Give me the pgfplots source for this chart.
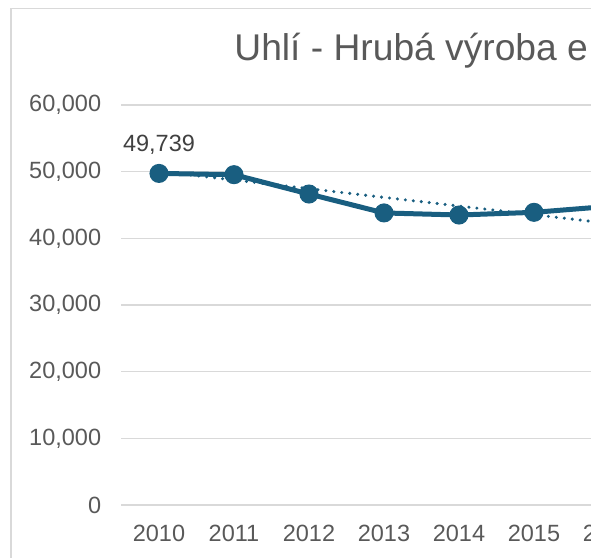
\documentclass[border=0pt]{standalone}
\usepackage{pgfplots}
\pgfplotsset{compat=1.18}
\usepackage{fontspec}
\setmainfont{Liberation Sans}

\definecolor{linecol}{HTML}{195E80}
\definecolor{gridcol}{HTML}{D9D9D9}
\definecolor{labcol}{HTML}{595959}
\definecolor{datcol}{HTML}{404040}

% 1 px of the reference = 0.5pt
\def\px{0.5pt}

\begin{document}
\begin{tikzpicture}
\useasboundingbox (0,0) rectangle (295.5pt,-279pt);
\clip (0,0) rectangle (295.5pt,-279pt);

% chart border (cut at right and bottom)
\draw[gridcol, line width=0.75pt] (11*\px,-700*\px) -- (11*\px,-8.5*\px) -- (800*\px,-8.5*\px);

% title
\node[anchor=base west, inner sep=0pt, text=labcol, font=\fontsize{18.6}{22}\selectfont]
  at (234*\px,-60.5*\px) {Uhlí - Hrubá výroba e};

\begin{axis}[
    at={(121.5*\px,-505*\px)}, anchor=south west,
    scale only axis,
    width=412.5pt, height=200pt,
    xmin=2009.5, xmax=2020.5,
    ymin=0, ymax=60000,
    xtick={2010,2011,...,2020},
    ytick={0,10000,...,60000},
    scaled y ticks=false,
    axis line style={draw=none},
    major tick length=0pt,
    ymajorgrids,
    grid style={gridcol, line width=0.8pt},
    xticklabel={\pgfmathprintnumber[1000 sep={}]{\tick}},
    yticklabel style={/pgf/number format/fixed, /pgf/number format/1000 sep={,}},
    /pgf/number format/assume math mode=true,
    ticklabel style={text=labcol, font=\fontsize{11.75}{14}\selectfont, inner sep=0pt},
    yticklabel style={anchor=east, xshift=-10pt},
    xticklabel style={anchor=north, yshift=-10pt},
    clip=false,
]
\addplot[linecol, line width=2.5pt, mark=*, mark size=3.5pt, mark options={solid, fill=linecol}]
  coordinates {(2010,49739)(2011,49550)(2012,46650)(2013,43810)(2014,43500)(2015,43900)(2016,44800)};
% linear trend
\addplot[linecol, line width=1.7pt, line cap=round, dash pattern=on 0pt off 4pt]
  coordinates {(2010,50050)(2016,42240)};
\node[anchor=base, inner sep=0pt, text=datcol, font=\fontsize{11.75}{14}\selectfont, yshift=11pt]
  at (axis cs:2010,49739) {49,739};
\end{axis}
\end{tikzpicture}
\end{document}
